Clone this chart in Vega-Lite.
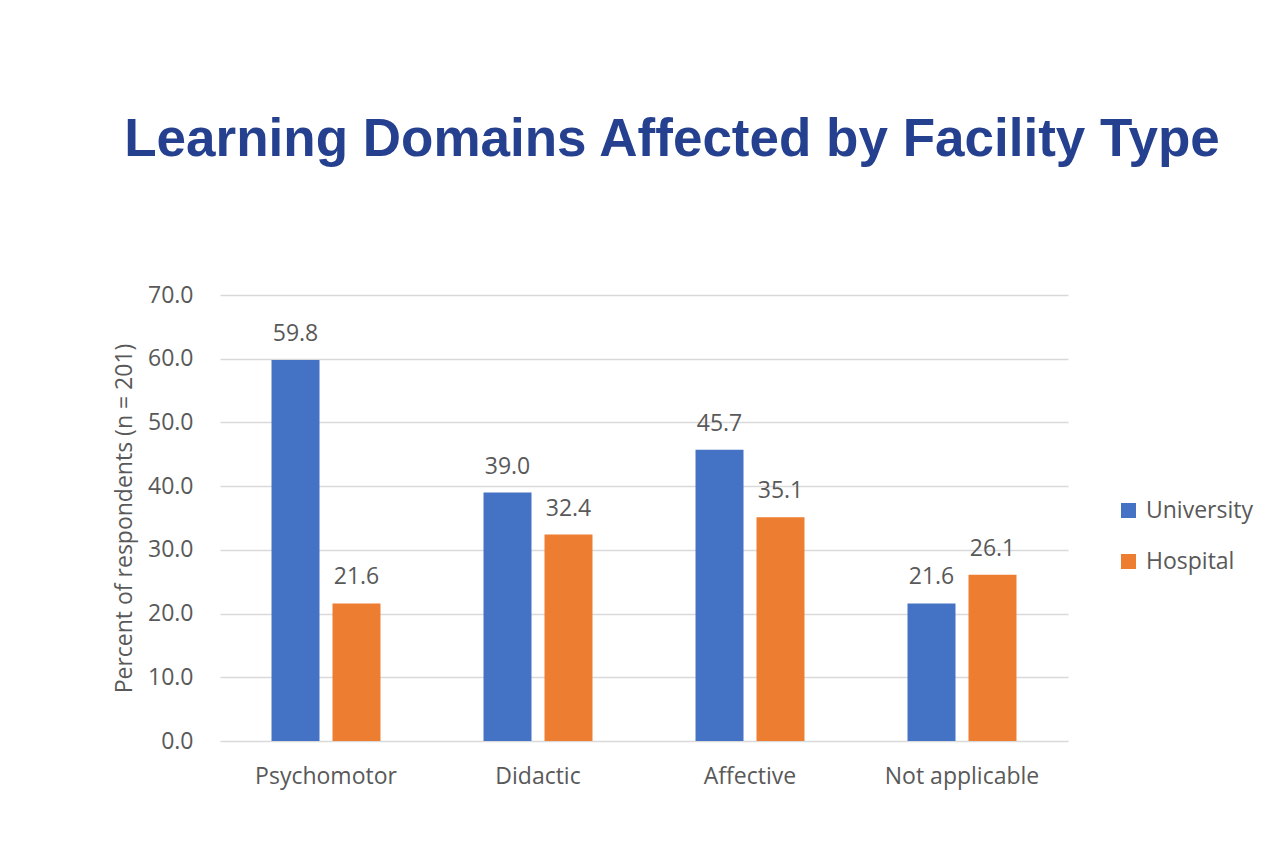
{
  "$schema": "https://vega.github.io/schema/vega-lite/v6.json",
  "autosize": {"type": "none"},
  "padding": {"left": 220, "top": 295, "right": 204, "bottom": 127},
  "width": 848,
  "height": 446,
  "background": "white",
  "title": {
    "text": "Learning Domains Affected by Facility Type",
    "font": "Liberation Sans",
    "fontSize": 53,
    "fontWeight": "bold",
    "color": "#25408F",
    "anchor": "middle",
    "frame": "group",
    "dx": 28,
    "offset": 117
  },
  "data": {
    "values": [
      {"domain": "Psychomotor", "facility": "University", "value": 59.8},
      {"domain": "Psychomotor", "facility": "Hospital", "value": 21.6},
      {"domain": "Didactic", "facility": "University", "value": 39.0},
      {"domain": "Didactic", "facility": "Hospital", "value": 32.4},
      {"domain": "Affective", "facility": "University", "value": 45.7},
      {"domain": "Affective", "facility": "Hospital", "value": 35.1},
      {"domain": "Not applicable", "facility": "University", "value": 21.6},
      {"domain": "Not applicable", "facility": "Hospital", "value": 26.1}
    ]
  },
  "encoding": {
    "x": {
      "field": "domain",
      "type": "nominal",
      "sort": ["Psychomotor", "Didactic", "Affective", "Not applicable"],
      "scale": {"paddingInner": 0.486, "paddingOuter": 0.243},
      "axis": {
        "title": null,
        "labelAngle": 0,
        "ticks": false,
        "domain": false,
        "labelPadding": 24,
        "labelFont": "Open Sans",
        "labelFontSize": 23,
        "labelColor": "#595959"
      }
    },
    "xOffset": {
      "field": "facility",
      "type": "nominal",
      "sort": ["University", "Hospital"],
      "scale": {"paddingInner": 0.213, "paddingOuter": 0}
    },
    "y": {
      "field": "value",
      "type": "quantitative",
      "scale": {"domain": [0, 70], "nice": false},
      "axis": {
        "title": "Percent of respondents (n = 201)",
        "titleFont": "Open Sans",
        "titleFontSize": 23,
        "titleFontWeight": "normal",
        "titleColor": "#595959",
        "titlePadding": 11,
        "values": [0, 10, 20, 30, 40, 50, 60, 70],
        "format": ".1f",
        "ticks": false,
        "domain": false,
        "labelPadding": 27,
        "labelFont": "Open Sans",
        "labelFontSize": 23,
        "labelColor": "#595959",
        "gridColor": "#D9D9D9",
        "gridWidth": 1.5
      }
    }
  },
  "layer": [
    {
      "mark": {"type": "bar"},
      "encoding": {
        "color": {
          "field": "facility",
          "type": "nominal",
          "sort": ["University", "Hospital"],
          "scale": {"domain": ["University", "Hospital"], "range": ["#4472C4", "#ED7D31"]},
          "legend": {
            "title": null,
            "orient": "none",
            "legendX": 897,
            "legendY": 204,
            "symbolType": "square",
            "symbolSize": 225,
            "symbolStrokeWidth": 0,
            "labelFont": "Open Sans",
            "labelFontSize": 23,
            "labelColor": "#595959",
            "rowPadding": 27,
            "labelOffset": 6
          }
        }
      }
    },
    {
      "mark": {
        "type": "text",
        "baseline": "alphabetic",
        "dy": -19,
        "font": "Open Sans",
        "fontSize": 23,
        "color": "#595959"
      },
      "encoding": {
        "text": {"field": "value", "type": "quantitative", "format": ".1f"}
      }
    }
  ],
  "config": {
    "view": {"stroke": null}
  }
}
